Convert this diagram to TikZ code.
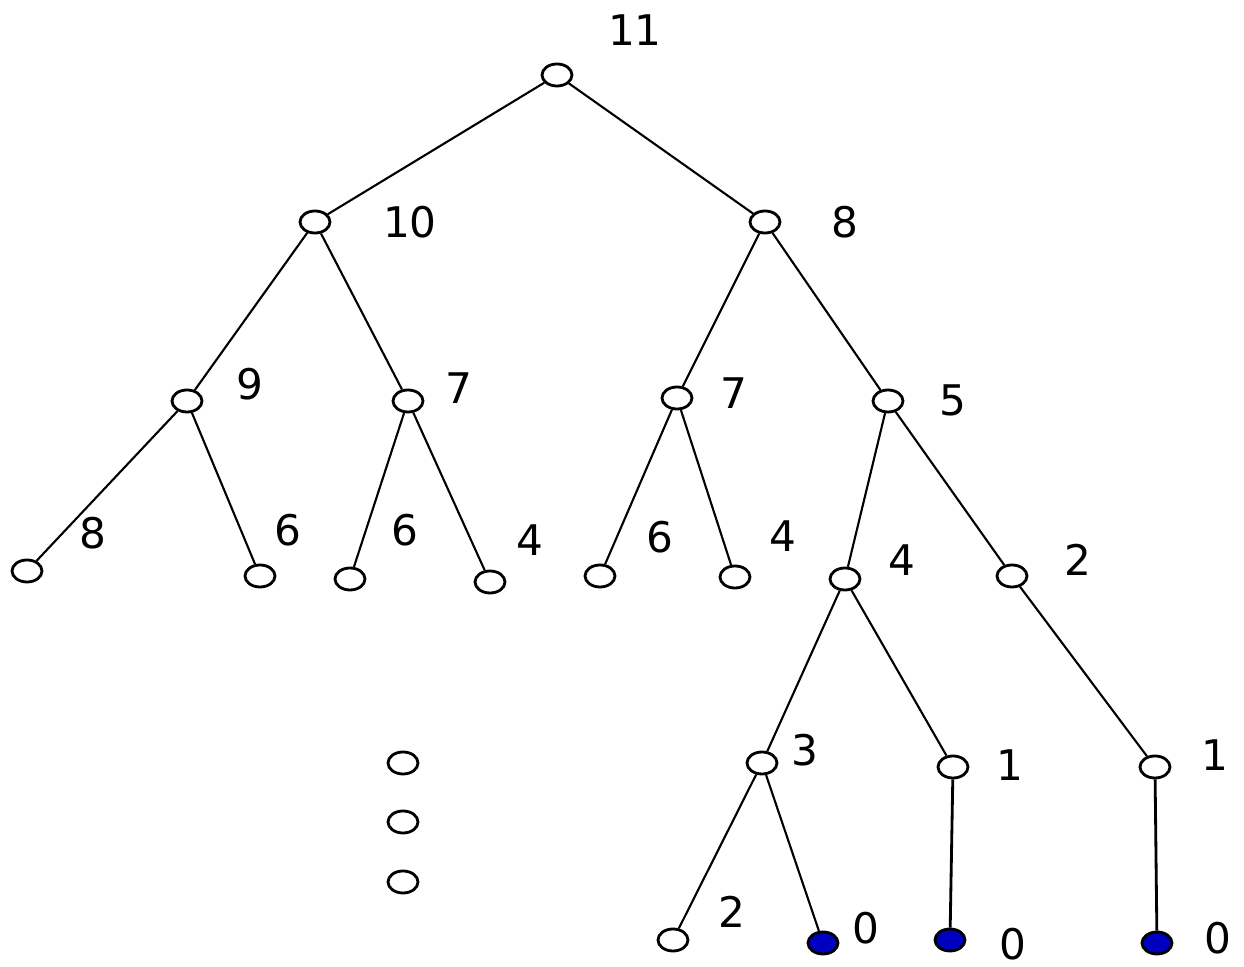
\documentclass[tikz,border=0pt]{standalone}
\usepackage{fontspec}
\setmainfont{DejaVu Sans}
\usetikzlibrary{shapes.geometric}

\tikzset{
  vert/.style={ellipse, draw, line width=0.8pt, minimum width=0.3cm, minimum height=0.22cm, inner sep=0pt},
  hit/.style={vert, fill=blue!75!black},
  val/.style={font=\fontsize{12}{14}\selectfont, inner sep=1pt}
}

\begin{document}
\begin{tikzpicture}[x=0.01cm, y=-0.01cm, line width=0.6pt]
    \useasboundingbox (0,0) rectangle (1244,967);
    % vertices
    \node[vert] (r) at (557,75) {};
    \node[vert] (a) at (315,222) {};
    \node[vert] (b) at (765,222) {};
    \node[vert] (aa) at (187,401) {};
    \node[vert] (ab) at (408,401) {};
    \node[vert] (ba) at (677,398) {};
    \node[vert] (bb) at (888,401) {};
    \node[vert] (aaa) at (27,571) {};
    \node[vert] (aab) at (260,576) {};
    \node[vert] (aba) at (350,579) {};
    \node[vert] (abb) at (490,582) {};
    \node[vert] (baa) at (600,576) {};
    \node[vert] (bab) at (735,577) {};
    \node[vert] (bba) at (845,579) {};
    \node[vert] (bbb) at (1012,576) {};
    \node[vert] (bbaa) at (762,763) {};
    \node[vert] (bbab) at (953,767) {};
    \node[vert] (bbba) at (1155,767) {};
    \node[vert] (bbaaa) at (673,940) {};
    \node[hit] (bbaab) at (823,943) {};
    \node[hit] (bbaba) at (950,940) {};
    \node[hit] (bbbaa) at (1157,943) {};
    % dots
    \node[vert] (d1) at (403,763) {};
    \node[vert] (d2) at (403,822) {};
    \node[vert] (d3) at (403,882) {};

    % values
    \node[val] (lr) at (635,30) {11};
    \node[val] (la) at (410,222) {10};
    \node[val] (lb) at (845,222) {8};
    \node[val] (laa) at (250,384) {9};
    \node[val] (lab) at (459,388) {7};
    \node[val] (lba) at (734,393) {7};
    \node[val] (lbb) at (953,400) {5};
    \node[val] (laaa) at (93,533) {8};
    \node[val] (laab) at (288,530) {6};
    \node[val] (laba) at (405,530) {6};
    \node[val] (labb) at (530,540) {4};
    \node[val] (lbaa) at (660,537) {6};
    \node[val] (lbab) at (783,536) {4};
    \node[val] (lbba) at (902,560) {4};
    \node[val] (lbbb) at (1078,560) {2};
    \node[val] (lbbaa) at (805,750) {3};
    \node[val] (lbbab) at (1010,765) {1};
    \node[val] (lbbba) at (1215,755) {1};
    \node[val] (lbbaaa) at (732,912) {2};
    \node[val] (lbbaab) at (866,928) {0};
    \node[val] (lbbaba) at (1013,944) {0};
    \node[val] (lbbbaa) at (1218,938) {0};

    % edges
    \draw (r) -- (a);
    \draw (r) -- (b);
    \draw (a) -- (aa);
    \draw (a) -- (ab);
    \draw (b) -- (ba);
    \draw (b) -- (bb);
    \draw (aa) -- (aaa);
    \draw (aa) -- (aab);
    \draw (ab) -- (aba);
    \draw (ab) -- (abb);
    \draw (ba) -- (baa);
    \draw (ba) -- (bab);
    \draw (bb) -- (bba);
    \draw (bb) -- (bbb);
    \draw (bba) -- (bbaa);
    \draw (bba) -- (bbab);
    \draw (bbb) -- (bbba);
    \draw (bbaa) -- (bbaaa);
    \draw (bbaa) -- (bbaab);
    \draw[line width=0.8pt] (bbab) -- (bbaba);
    \draw[line width=0.8pt] (bbba) -- (bbbaa);
  \end{tikzpicture}
\end{document}
